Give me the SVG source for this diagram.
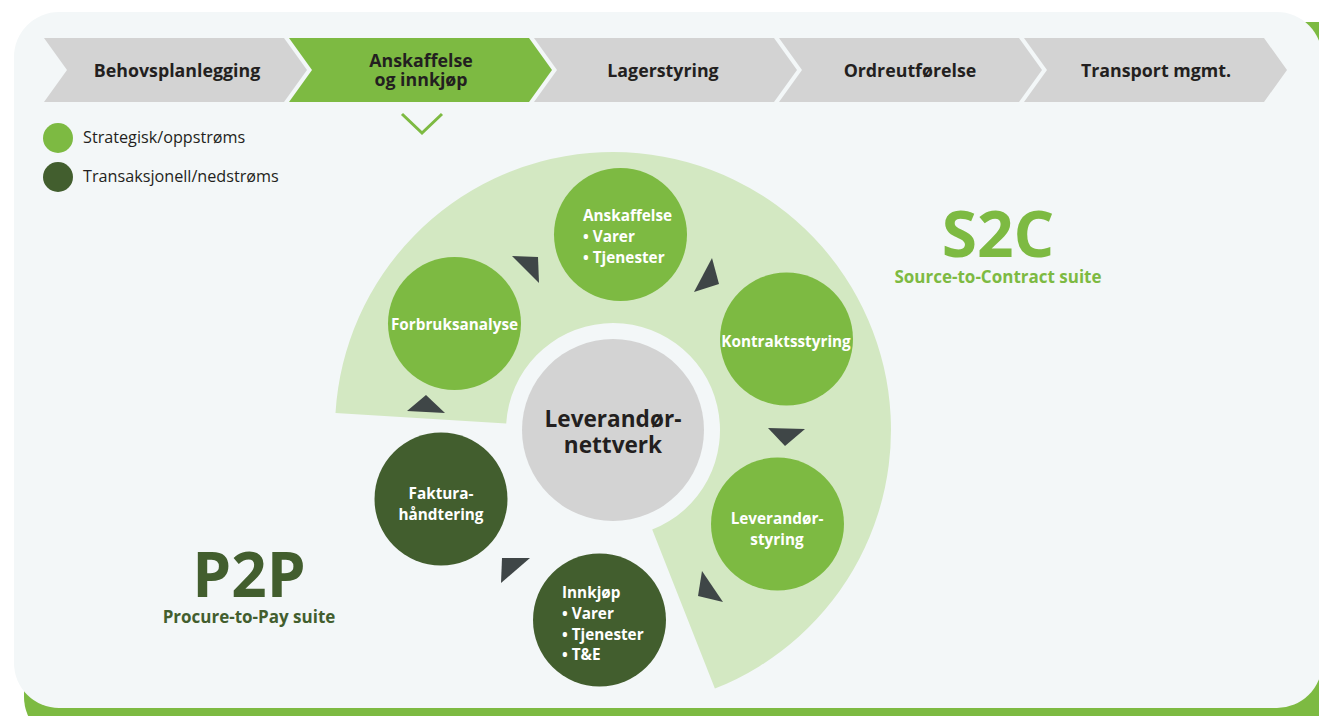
<svg xmlns="http://www.w3.org/2000/svg" width="1319" height="716" viewBox="0 0 1319 716">
<style>
.chev{fill:#d3d3d3}
.chev-on{fill:#7dba42}
.chev-t{font-family:"Open Sans","Liberation Sans",sans-serif;font-weight:700;font-size:17.8px;fill:#231f20;text-anchor:middle}
.leg{font-family:"Open Sans","Liberation Sans",sans-serif;font-size:16.2px;fill:#231f20}
.lt{fill:#7dba42}
.dk{fill:#425e2e}
.nt{font-family:"Open Sans","Liberation Sans",sans-serif;font-weight:700;font-size:15.3px;fill:#ffffff}
.c{text-anchor:middle}
.arr{fill:#3f4647}
.big{font-family:"Open Sans","Liberation Sans",sans-serif;font-weight:700;text-anchor:middle}
</style>
<rect x="24" y="22" width="1340" height="720" rx="45" fill="#7dba42"/>
<rect x="14" y="12" width="1308" height="696" rx="45" fill="#f3f7f8"/>
<g id="process-bar">
<g id="step-behovsplanlegging"><path class="chev" d="M44,38 L284,38 L307,70 L284,102 L44,102 L67,70 Z"/><text class="chev-t" x="177" y="77">Behovsplanlegging</text></g>
<g id="step-anskaffelse"><path class="chev-on" d="M289,38 L529,38 L552,70 L529,102 L289,102 L312,70 Z"/><text class="chev-t" x="421" y="67">Anskaffelse</text><text class="chev-t" x="421" y="86">og innkjøp</text></g>
<g id="step-lagerstyring"><path class="chev" d="M534,38 L774,38 L797,70 L774,102 L534,102 L557,70 Z"/><text class="chev-t" x="663" y="77">Lagerstyring</text></g>
<g id="step-ordreutforelse"><path class="chev" d="M779,38 L1019,38 L1042,70 L1019,102 L779,102 L802,70 Z"/><text class="chev-t" x="910" y="77">Ordreutførelse</text></g>
<g id="step-transport"><path class="chev" d="M1024,38 L1264,38 L1287,70 L1264,102 L1024,102 L1047,70 Z"/><text class="chev-t" x="1156" y="77">Transport mgmt.</text></g>
<polyline points="402,114 422,133 442,114" fill="none" stroke="#7dba42" stroke-width="3"/>
</g>
<g id="legend">
<circle class="lt" cx="58" cy="138" r="15"/><text class="leg" x="83" y="143">Strategisk/oppstrøms</text>
<circle class="dk" cx="58" cy="177" r="15"/><text class="leg" x="83" y="182">Transaksjonell/nedstrøms</text>
</g>
<path id="s2c-zone" d="M335.5,413 A278,278 0 1 1 714.9,688.6 L652.2,529.6 A107,107 0 1 0 506.2,423.5 Z" fill="#d3e8c2"/>
<g id="label-s2c">
<text class="big" x="998" y="257" font-size="64" fill="#7dba42">S2C</text>
<text class="big" x="998" y="283" font-size="17" fill="#7dba42">Source-to-Contract suite</text>
</g>
<g id="label-p2p">
<text class="big" x="249" y="597" font-size="62" fill="#425e2e">P2P</text>
<text class="big" x="249" y="623" font-size="17" fill="#425e2e">Procure-to-Pay suite</text>
</g>
<g id="connectors">
<polygon class="arr" points="512,256 538,257 539,283"/>
<polygon class="arr" points="712,258 719,284 694,292"/>
<polygon class="arr" points="768,428 805,429 785,446"/>
<polygon class="arr" points="702,571 723,602 698,596"/>
<polygon class="arr" points="502,558 530,558 501,583"/>
<polygon class="arr" points="407,411 426,395 445,413"/>
</g>
<g id="node-leverandornettverk">
<circle cx="613" cy="430" r="91" fill="#d3d3d3"/>
<text class="big" x="613" y="427" font-size="22.6" fill="#231f20">Leverandør-</text>
<text class="big" x="613" y="453" font-size="22.6" fill="#231f20">nettverk</text>
</g>
<g id="node-anskaffelse">
<circle class="lt" cx="620.5" cy="234.5" r="66.5"/>
<text class="nt" x="583" y="221">Anskaffelse</text>
<text class="nt" x="583" y="242">• Varer</text>
<text class="nt" x="583" y="263">• Tjenester</text>
</g>
<g id="node-kontraktsstyring">
<circle class="lt" cx="786.5" cy="339" r="66.5"/>
<text class="nt c" x="786" y="347">Kontraktsstyring</text>
</g>
<g id="node-leverandorstyring">
<circle class="lt" cx="777.5" cy="524" r="66.5"/>
<text class="nt c" x="777" y="524">Leverandør-</text>
<text class="nt c" x="777" y="545">styring</text>
</g>
<g id="node-innkjop">
<circle class="dk" cx="599.5" cy="620" r="66.5"/>
<text class="nt" x="562" y="598">Innkjøp</text>
<text class="nt" x="562" y="619">• Varer</text>
<text class="nt" x="562" y="640">• Tjenester</text>
<text class="nt" x="562" y="660">• T&amp;E</text>
</g>
<g id="node-fakturahandtering">
<circle class="dk" cx="441" cy="499" r="66.5"/>
<text class="nt c" x="441" y="499">Faktura-</text>
<text class="nt c" x="441" y="520">håndtering</text>
</g>
<g id="node-forbruksanalyse">
<circle class="lt" cx="454.5" cy="323.5" r="66.5"/>
<text class="nt c" x="454.5" y="330">Forbruksanalyse</text>
</g>
</svg>
